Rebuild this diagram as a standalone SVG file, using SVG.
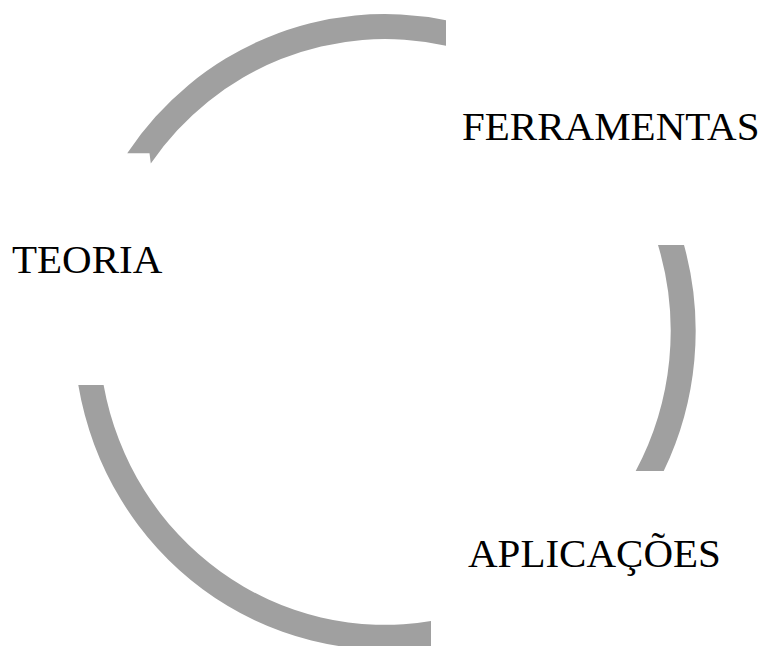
<svg xmlns="http://www.w3.org/2000/svg" width="767" height="646" viewBox="0 0 767 646">
  <style>
    .arc { fill: #a0a0a0; stroke: none; }
    .label { font-family: "Liberation Serif", "Times New Roman", serif; font-size: 41px; fill: #000000; }
  </style>
  <rect x="0" y="0" width="767" height="646" fill="#ffffff"/>
  <g id="connectors">
    <path id="arc-top" class="arc" d="M 446,20.2 A 311 317 0 0 0 127.2,153.3 L 149.5,153.3 L 150.8,163.5 A 286 292 0 0 1 446,45.8 Z"/>
    <path id="arc-right" class="arc" d="M 684,245 A 311 317 0 0 1 663.7,471 L 635.7,471 A 286 292 0 0 0 658,245 Z"/>
    <path id="arc-bottom" class="arc" d="M 78.3,385 A 311 318.5 0 0 0 431,646 L 431,621 A 286 293.5 0 0 1 103.6,385 Z"/>
  </g>
  <g id="node-ferramentas">
    <text class="label" x="462" y="139.5">FERRAMENTAS</text>
  </g>
  <g id="node-teoria">
    <text class="label" x="12" y="272.5">TEORIA</text>
  </g>
  <g id="node-aplicacoes">
    <text class="label" x="468" y="566.5">APLICAÇÕES</text>
  </g>
</svg>
